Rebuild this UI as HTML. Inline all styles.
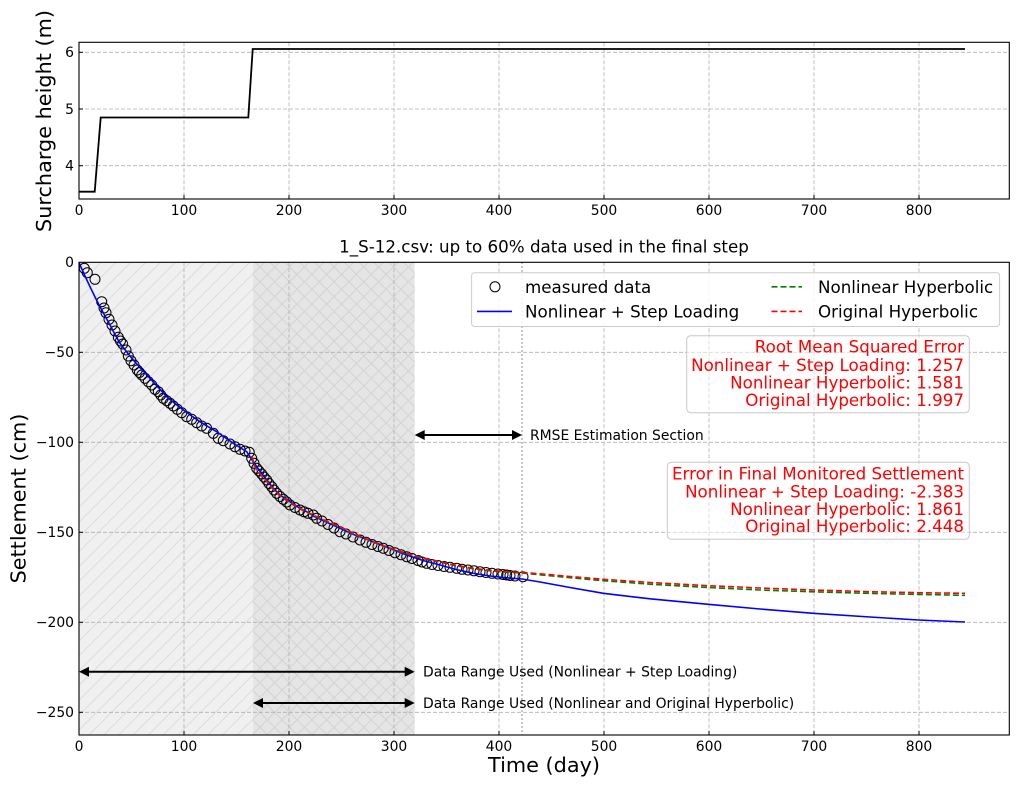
<!DOCTYPE html>
<html><head><meta charset="utf-8"><style>html,body{margin:0;padding:0;background:#fff;}svg{display:block;}</style></head>
<body>
<svg width="1018" height="789" xmlns="http://www.w3.org/2000/svg" font-family="'DejaVu Sans','Liberation Sans',sans-serif">
<defs>
<pattern id="h1" width="10.5" height="10.5" patternUnits="userSpaceOnUse" patternTransform="rotate(45)">
<line x1="5" y1="0" x2="5" y2="10.5" stroke="#dcdcdc" stroke-width="1"/></pattern>
<pattern id="h2" width="10.5" height="10.5" patternUnits="userSpaceOnUse" patternTransform="rotate(45)">
<line x1="5" y1="0" x2="5" y2="10.5" stroke="#d3d3d3" stroke-width="1"/><line x1="0" y1="5" x2="10.5" y2="5" stroke="#d3d3d3" stroke-width="1"/></pattern>
<clipPath id="cb"><rect x="79" y="262.3" width="930.3" height="472.7"/></clipPath>
</defs>
<rect width="1018" height="789" fill="#fff"/>

<!-- TOP AXES -->
<g stroke="#b0b0b0" stroke-width="0.8" stroke-dasharray="4,2" fill="none">
<line x1="184" y1="42.3" x2="184" y2="199"/><line x1="289" y1="42.3" x2="289" y2="199"/><line x1="394" y1="42.3" x2="394" y2="199"/><line x1="499" y1="42.3" x2="499" y2="199"/><line x1="604" y1="42.3" x2="604" y2="199"/><line x1="709" y1="42.3" x2="709" y2="199"/><line x1="814" y1="42.3" x2="814" y2="199"/><line x1="919" y1="42.3" x2="919" y2="199"/>
<line x1="79" y1="52.3" x2="1009.3" y2="52.3"/><line x1="79" y1="109" x2="1009.3" y2="109"/><line x1="79" y1="165.7" x2="1009.3" y2="165.7"/>
</g>
<polyline points="79,191.7 94.7,191.7 100.7,117.5 248.3,117.5 252.7,49 965,49" fill="none" stroke="#000" stroke-width="1.8"/>
<rect x="79" y="42.3" width="930.3" height="156.7" fill="none" stroke="#000" stroke-width="1.1"/>
<g stroke="#000" stroke-width="1">
<line x1="184" y1="199" x2="184" y2="195"/><line x1="289" y1="199" x2="289" y2="195"/><line x1="394" y1="199" x2="394" y2="195"/><line x1="499" y1="199" x2="499" y2="195"/><line x1="604" y1="199" x2="604" y2="195"/><line x1="709" y1="199" x2="709" y2="195"/><line x1="814" y1="199" x2="814" y2="195"/><line x1="919" y1="199" x2="919" y2="195"/>
<line x1="79" y1="52.3" x2="83" y2="52.3"/><line x1="79" y1="109" x2="83" y2="109"/><line x1="79" y1="165.7" x2="83" y2="165.7"/>
</g>
<g font-size="13.9" fill="#000" text-anchor="middle">
<text x="79" y="215">0</text><text x="184" y="215">100</text><text x="289" y="215">200</text><text x="394" y="215">300</text><text x="499" y="215">400</text><text x="604" y="215">500</text><text x="709" y="215">600</text><text x="814" y="215">700</text><text x="919" y="215">800</text>
</g>
<g font-size="13.9" fill="#000" text-anchor="end">
<text x="74" y="57.1">6</text><text x="74" y="113.8">5</text><text x="74" y="170.5">4</text>
</g>
<text transform="translate(51,121) rotate(-90)" font-size="20.8" text-anchor="middle" fill="#000">Surcharge height (m)</text>

<!-- BOTTOM AXES -->
<text x="544" y="252.5" font-size="16.7" text-anchor="middle" fill="#000">1_S-12.csv: up to 60% data used in the final step</text>
<rect x="79" y="262.3" width="174" height="472.7" fill="#f0f0f0"/>
<rect x="79" y="262.3" width="174" height="472.7" fill="url(#h1)"/>
<rect x="253" y="262.3" width="161.7" height="472.7" fill="#e5e5e5"/>
<rect x="253" y="262.3" width="161.7" height="472.7" fill="url(#h2)"/>
<g stroke="#b0b0b0" stroke-width="0.8" stroke-dasharray="4,2" fill="none">
<line x1="184" y1="262.3" x2="184" y2="735"/><line x1="289" y1="262.3" x2="289" y2="735"/><line x1="394" y1="262.3" x2="394" y2="735"/><line x1="499" y1="262.3" x2="499" y2="735"/><line x1="604" y1="262.3" x2="604" y2="735"/><line x1="709" y1="262.3" x2="709" y2="735"/><line x1="814" y1="262.3" x2="814" y2="735"/><line x1="919" y1="262.3" x2="919" y2="735"/>
<line x1="79" y1="352.3" x2="1009.3" y2="352.3"/><line x1="79" y1="442.3" x2="1009.3" y2="442.3"/><line x1="79" y1="532.3" x2="1009.3" y2="532.3"/><line x1="79" y1="622.3" x2="1009.3" y2="622.3"/><line x1="79" y1="712.3" x2="1009.3" y2="712.3"/>
</g>
<line x1="522" y1="262.3" x2="522" y2="735" stroke="#9a9a9a" stroke-width="1.5" stroke-dasharray="1.5,2.5"/>

<g clip-path="url(#cb)">
<g fill="none" stroke="#000" stroke-width="1">
<circle cx="84.3" cy="268.3" r="5"/><circle cx="87.3" cy="272.7" r="5"/><circle cx="95" cy="279.3" r="5"/><circle cx="101.7" cy="301.7" r="5"/><circle cx="104" cy="308" r="5"/><circle cx="106" cy="312.7" r="5"/><circle cx="109" cy="319.3" r="5"/><circle cx="112" cy="325" r="5"/><circle cx="115" cy="331" r="5"/><circle cx="118.3" cy="337.3" r="5"/><circle cx="120.5" cy="341" r="5"/><circle cx="122.7" cy="344" r="5"/><circle cx="126" cy="350" r="5"/><circle cx="128.3" cy="356" r="5"/><circle cx="131" cy="360.7" r="5"/><circle cx="134" cy="365" r="5"/><circle cx="137.3" cy="370" r="5"/><circle cx="139.5" cy="372.5" r="5"/><circle cx="141.7" cy="375" r="5"/><circle cx="145" cy="378.3" r="5"/><circle cx="148.3" cy="381.7" r="5"/><circle cx="151.7" cy="385" r="5"/><circle cx="155" cy="389.3" r="5"/><circle cx="158.3" cy="391.7" r="5"/><circle cx="160.7" cy="395" r="5"/><circle cx="163.3" cy="398.3" r="5"/><circle cx="166.7" cy="400.7" r="5"/><circle cx="170" cy="403.3" r="5"/><circle cx="173.3" cy="406" r="5"/><circle cx="177.3" cy="409.3" r="5"/><circle cx="181.7" cy="412.7" r="5"/><circle cx="186.7" cy="416.7" r="5"/><circle cx="191.7" cy="419.3" r="5"/><circle cx="196.7" cy="422.7" r="5"/><circle cx="201.7" cy="426" r="5"/><circle cx="206.7" cy="428.3" r="5"/><circle cx="213.3" cy="433.3" r="5"/><circle cx="218.3" cy="438.3" r="5"/><circle cx="223.3" cy="440.7" r="5"/><circle cx="230" cy="444" r="5"/><circle cx="235" cy="446.7" r="5"/><circle cx="240" cy="449.3" r="5"/><circle cx="245" cy="451" r="5"/><circle cx="249.3" cy="452.3" r="5"/><circle cx="251.7" cy="458.3" r="5"/><circle cx="254" cy="463.3" r="5"/><circle cx="256.7" cy="468.3" r="5"/><circle cx="259" cy="471" r="5"/><circle cx="261.7" cy="474" r="5"/><circle cx="264" cy="477" r="5"/><circle cx="266.7" cy="480" r="5"/><circle cx="269" cy="483.5" r="5"/><circle cx="271.7" cy="486.7" r="5"/><circle cx="274" cy="490" r="5"/><circle cx="276.7" cy="493.3" r="5"/><circle cx="280" cy="496.5" r="5"/><circle cx="283.3" cy="499.3" r="5"/><circle cx="286.7" cy="502" r="5"/><circle cx="290" cy="505" r="5"/><circle cx="295" cy="507.5" r="5"/><circle cx="300" cy="510" r="5"/><circle cx="304" cy="511.7" r="5"/><circle cx="308" cy="513.3" r="5"/><circle cx="313.3" cy="515" r="5"/><circle cx="316.7" cy="518.3" r="5"/><circle cx="322" cy="521" r="5"/><circle cx="328" cy="524.5" r="5"/><circle cx="334" cy="528" r="5"/><circle cx="340" cy="531.7" r="5"/><circle cx="346" cy="534" r="5"/><circle cx="353" cy="537" r="5"/><circle cx="360" cy="540" r="5"/><circle cx="366" cy="542.3" r="5"/><circle cx="372" cy="544.5" r="5"/><circle cx="378" cy="546.5" r="5"/><circle cx="383.3" cy="548.3" r="5"/><circle cx="389" cy="550.5" r="5"/><circle cx="395" cy="552.7" r="5"/><circle cx="401" cy="554.7" r="5"/><circle cx="406.7" cy="556.7" r="5"/><circle cx="412" cy="558.5" r="5"/><circle cx="418" cy="560.5" r="5"/><circle cx="422" cy="562" r="5"/><circle cx="426.7" cy="563.3" r="5"/><circle cx="432" cy="564.5" r="5"/><circle cx="438" cy="565.5" r="5"/><circle cx="444" cy="566.5" r="5"/><circle cx="450" cy="567.3" r="5"/><circle cx="456.7" cy="568.3" r="5"/><circle cx="462" cy="569.3" r="5"/><circle cx="468" cy="570" r="5"/><circle cx="474" cy="570.8" r="5"/><circle cx="480" cy="571.7" r="5"/><circle cx="486" cy="572.5" r="5"/><circle cx="492" cy="573.3" r="5"/><circle cx="498" cy="574" r="5"/><circle cx="503" cy="574.5" r="5"/><circle cx="506.7" cy="575" r="5"/><circle cx="510" cy="575.5" r="5"/><circle cx="515" cy="576" r="5"/><circle cx="523" cy="576.7" r="5"/>
</g>
<polyline fill="none" stroke="#0000ff" stroke-width="1.6" points="79,262.3 80,265 85,276 90,286.7 95,297 100,306.7 105,316 110,325 115,334.5 120,343.3 126.7,352 133.3,360 141.7,369.5 150,378.3 158.3,387.5 166.7,396.7 175,403.5 183.3,410 191.7,416 200,421.7 208.3,426.8 216.7,431.7 225,437.5 233.3,443.3 240,447.5 246.7,451.7 250,456.7 253,461.5 256.7,466.7 261.7,473.5 266.7,480 273.3,488.3 280,495 290,501.7 300,508.3 306.7,511.7 313.3,516 323,520.5 340,528.3 356,535.5 373.3,541.7 390,548.5 406.7,555 423,560.5 440,565 456,569.5 473.3,573.3 490,576 506.7,577.8 522,579 540,582 570,587.5 603.3,593.3 650,598.8 708.3,604.3 760,609 813.3,613.3 870,617 918.3,620 965,622"/>
<polyline fill="none" stroke="#008000" stroke-width="1.6" stroke-dasharray="6,3" points="251.7,456.5 255,467.5 260,474 266.7,481.5 273.3,489.5 280,496 290,503 300,509 316.7,517.2 340,527.2 356,535 373.3,542.2 390,548.5 406.7,553.8 423,558.5 440,562.2 456,565.8 473.3,568.8 490,570.8 506.7,572.2 522,573 540,574.8 570,577.7 603.3,580.7 650,584.2 708.3,587.5 760,590 813.3,591.8 870,593.4 918.3,594.4 965,595.3"/>
<polyline fill="none" stroke="#ff0000" stroke-width="1.6" stroke-dasharray="6,3" points="251.7,456 255,467 260,473.5 266.7,481 273.3,489 280,495.5 290,502.5 300,508.5 316.7,516.7 340,526.7 356,534.5 373.3,541.7 390,548 406.7,553.3 423,558 440,561.7 456,565.3 473.3,568.3 490,570.3 506.7,571.7 522,572.3 540,573.8 570,576.5 603.3,579.3 650,582.5 708.3,585.7 760,588 813.3,590 870,591.7 918.3,592.7 965,593.3"/>
</g>

<!-- arrows -->
<g stroke="#000" stroke-width="2" fill="none">
<line x1="422" y1="435" x2="514" y2="435"/>
<line x1="86" y1="671.7" x2="407" y2="671.7"/>
<line x1="260" y1="703" x2="407" y2="703"/>
</g>
<g fill="#000">
<polygon points="414.7,435 424.7,430 424.7,440"/><polygon points="522,435 512,430 512,440"/>
<polygon points="79,671.7 89,666.7 89,676.7"/><polygon points="414.7,671.7 404.7,666.7 404.7,676.7"/>
<polygon points="253,703 263,698 263,708"/><polygon points="414.7,703 404.7,698 404.7,708"/>
</g>
<g font-size="13.9" fill="#000">
<text x="530" y="440">RMSE Estimation Section</text>
<text x="423" y="676.7">Data Range Used (Nonlinear + Step Loading)</text>
<text x="423" y="708">Data Range Used (Nonlinear and Original Hyperbolic)</text>
</g>

<!-- legend -->
<rect x="471.6" y="272.8" width="528" height="53.7" rx="3" fill="#fff" fill-opacity="0.85" stroke="#cccccc" stroke-width="1"/>
<circle cx="495" cy="286.8" r="5" fill="none" stroke="#000" stroke-width="1"/>
<line x1="477" y1="311.4" x2="512" y2="311.4" stroke="#0000ff" stroke-width="1.6"/>
<line x1="771.5" y1="286.8" x2="802" y2="286.8" stroke="#008000" stroke-width="1.6" stroke-dasharray="6,3"/>
<line x1="771.5" y1="311.4" x2="802" y2="311.4" stroke="#ff0000" stroke-width="1.6" stroke-dasharray="6,3"/>
<g font-size="16.7" fill="#000">
<text x="525" y="292.8">measured data</text>
<text x="525" y="317.4">Nonlinear + Step Loading</text>
<text x="818" y="292.8">Nonlinear Hyperbolic</text>
<text x="818" y="317.4">Original Hyperbolic</text>
</g>

<!-- text boxes -->
<rect x="686.7" y="335.7" width="282.6" height="77" rx="4" fill="#fff" fill-opacity="0.5" stroke="#c8c8c8" stroke-width="1"/>
<rect x="667.3" y="462.3" width="302" height="77" rx="4" fill="#fff" fill-opacity="0.5" stroke="#c8c8c8" stroke-width="1"/>
<g font-size="16.7" fill="#ff0000" text-anchor="end">
<text x="964" y="352.7">Root Mean Squared Error</text>
<text x="964" y="371">Nonlinear + Step Loading: 1.257</text>
<text x="964" y="388.7">Nonlinear Hyperbolic: 1.581</text>
<text x="964" y="406">Original Hyperbolic: 1.997</text>
<text x="964" y="479.3">Error in Final Monitored Settlement</text>
<text x="964" y="497.7">Nonlinear + Step Loading: -2.383</text>
<text x="964" y="515">Nonlinear Hyperbolic: 1.861</text>
<text x="964" y="532">Original Hyperbolic: 2.448</text>
</g>

<rect x="79" y="262.3" width="930.3" height="472.7" fill="none" stroke="#000" stroke-width="1.1"/>
<g stroke="#000" stroke-width="1">
<line x1="184" y1="735" x2="184" y2="731"/><line x1="289" y1="735" x2="289" y2="731"/><line x1="394" y1="735" x2="394" y2="731"/><line x1="499" y1="735" x2="499" y2="731"/><line x1="604" y1="735" x2="604" y2="731"/><line x1="709" y1="735" x2="709" y2="731"/><line x1="814" y1="735" x2="814" y2="731"/><line x1="919" y1="735" x2="919" y2="731"/>
<line x1="79" y1="352.3" x2="83" y2="352.3"/><line x1="79" y1="442.3" x2="83" y2="442.3"/><line x1="79" y1="532.3" x2="83" y2="532.3"/><line x1="79" y1="622.3" x2="83" y2="622.3"/><line x1="79" y1="712.3" x2="83" y2="712.3"/>
</g>
<g font-size="13.9" fill="#000" text-anchor="middle">
<text x="79" y="751">0</text><text x="184" y="751">100</text><text x="289" y="751">200</text><text x="394" y="751">300</text><text x="499" y="751">400</text><text x="604" y="751">500</text><text x="709" y="751">600</text><text x="814" y="751">700</text><text x="919" y="751">800</text>
</g>
<g font-size="13.9" fill="#000" text-anchor="end">
<text x="74" y="267.1">0</text><text x="74" y="357.1">−50</text><text x="74" y="447.1">−100</text><text x="74" y="537.1">−150</text><text x="74" y="627.1">−200</text><text x="74" y="717.1">−250</text>
</g>
<text x="544" y="772" font-size="20.8" text-anchor="middle" fill="#000">Time (day)</text>
<text transform="translate(25.5,498.5) rotate(-90)" font-size="20.8" text-anchor="middle" fill="#000">Settlement (cm)</text>
</svg>
</body></html>
